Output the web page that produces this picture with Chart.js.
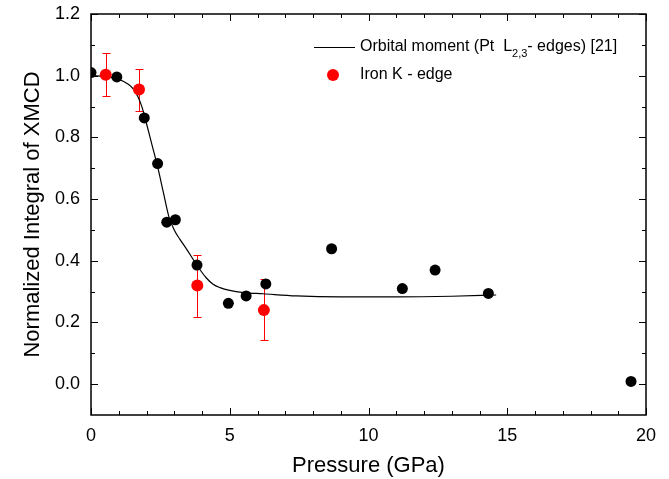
<!DOCTYPE html>
<html>
<head>
<meta charset="utf-8">
<script src="https://cdn.jsdelivr.net/npm/chart.js@4"></script>
<style>
  html, body { margin: 0; padding: 0; background: #fff; }
  #wrap { width: 669px; height: 479px; }
</style>
</head>
<body>
<div id="wrap"><canvas id="chart" width="669" height="479"></canvas></div>
<script>
// Orbital moment (Pt L2,3 edges) [21] - black points
const pressurePt = [0, 0.93, 1.92, 2.4, 2.73, 3.04, 3.82, 4.95, 5.59, 6.3, 8.67, 11.22, 12.4, 14.32, 19.46];
const xmcdPt = [1.01, 0.996, 0.863, 0.715, 0.525, 0.533, 0.386, 0.262, 0.286, 0.325, 0.439, 0.31, 0.37, 0.294, 0.009];

// guide curve through the Pt data
const curveX = [0, 0.5, 1.0, 1.3, 1.5, 1.7, 1.85, 2.0, 2.2, 2.4, 2.6, 2.8, 3.0, 3.2, 3.45, 3.8, 4.15, 4.4, 4.65, 5.0, 5.5, 6.2, 7.4, 9, 11, 13, 14.6];
const curveY = [1.0, 0.998, 0.988, 0.975, 0.96, 0.93, 0.895, 0.845, 0.775, 0.705, 0.625, 0.545, 0.5, 0.47, 0.437, 0.388, 0.345, 0.324, 0.313, 0.304, 0.297, 0.293, 0.286, 0.283, 0.283, 0.285, 0.289];

// Iron K - edge - red points with error bars
const pressureFe = [0.53, 1.73, 3.83, 6.23];
const xmcdFe = [1.003, 0.955, 0.32, 0.24];
const errLow = [0.933, 0.884, 0.219, 0.143];
const errHigh = [1.072, 1.023, 0.418, 0.34];

const xTicks = [0, 5, 10, 15, 20];
const yTicks = [0, 0.2, 0.4, 0.6, 0.8, 1.0, 1.2];

const FONT = '"Liberation Sans", Arial, sans-serif';

const toXY = (xs, ys) => xs.map((x, i) => ({ x: x, y: ys[i] }));

// box + inward ticks on all four sides, error bars under the points
const framePlugin = {
    id: 'frame',
    beforeDatasetsDraw(chart) {
        const c = chart.ctx;
        const xs = chart.scales.x, ys = chart.scales.y;
        c.save();
        c.strokeStyle = 'red';
        c.lineWidth = 1;
        pressureFe.forEach((p, i) => {
            const px = Math.round(xs.getPixelForValue(p)) + 0.5;
            const lo = Math.round(ys.getPixelForValue(errLow[i])) + 0.5;
            const hi = Math.round(ys.getPixelForValue(errHigh[i])) + 0.5;
            c.beginPath();
            c.moveTo(px, lo); c.lineTo(px, hi);
            c.moveTo(px - 4, lo); c.lineTo(px + 4, lo);
            c.moveTo(px - 4, hi); c.lineTo(px + 4, hi);
            c.stroke();
        });
        c.restore();
    },
    afterDraw(chart) {
        const c = chart.ctx;
        const a = chart.chartArea;
        const xs = chart.scales.x, ys = chart.scales.y;
        c.save();
        c.strokeStyle = '#000';
        c.lineWidth = 1.5;
        c.strokeRect(a.left, a.top, a.right - a.left, a.bottom - a.top);
        c.lineWidth = 1;
        c.beginPath();
        for (let v = 0; v <= 20; v += 1) {
            const px = Math.round(xs.getPixelForValue(v)) + 0.5;
            const len = v % 5 === 0 ? 7 : 4;
            c.moveTo(px, a.bottom); c.lineTo(px, a.bottom - len);
            c.moveTo(px, a.top); c.lineTo(px, a.top + len);
        }
        for (let k = 0; k <= 12; k++) {
            const py = Math.round(ys.getPixelForValue(k / 10)) + 0.5;
            const len = k % 2 === 0 ? 7 : 4;
            c.moveTo(a.left, py); c.lineTo(a.left + len, py);
            c.moveTo(a.right, py); c.lineTo(a.right - len, py);
        }
        c.stroke();

        // legend (drawn by hand because of the subscript)
        const lx = 314, ly1 = 47, ly2 = 75;
        c.beginPath();
        c.moveTo(lx, ly1 + 0.5); c.lineTo(lx + 41, ly1 + 0.5);
        c.stroke();
        c.fillStyle = '#000';
        c.textBaseline = 'middle';
        c.textAlign = 'left';
        c.font = '16px ' + FONT;
        let tx = 360;
        const t1 = 'Orbital moment (Pt  L';
        c.fillText(t1, tx, ly1);
        tx += c.measureText(t1).width;
        c.font = '11px ' + FONT;
        c.fillText('2,3', tx, ly1 + 7);
        tx += c.measureText('2,3').width;
        c.font = '16px ' + FONT;
        c.fillText('- edges) [21]', tx, ly1);
        c.fillText('Iron K - edge', 360, ly2);
        c.fillStyle = 'red';
        c.beginPath();
        c.arc(lx + 19, ly2, 6, 0, Math.PI * 2);
        c.fill();
        c.restore();
    }
};

new Chart(document.getElementById('chart'), {
    type: 'scatter',
    data: {
        datasets: [
            {
                label: 'curve',
                type: 'line',
                data: toXY(curveX, curveY),
                borderColor: '#000',
                borderWidth: 1.2,
                pointRadius: 0,
                cubicInterpolationMode: 'monotone',
                fill: false,
                order: 3
            },
            {
                label: 'Orbital moment (Pt L2,3- edges) [21]',
                data: toXY(pressurePt, xmcdPt),
                backgroundColor: '#000',
                borderColor: '#000',
                pointRadius: 5.5,
                borderWidth: 0,
                order: 2
            },
            {
                label: 'Iron K - edge',
                data: toXY(pressureFe, xmcdFe),
                backgroundColor: 'red',
                borderColor: 'red',
                pointRadius: 6,
                borderWidth: 0,
                order: 1
            }
        ]
    },
    options: {
        responsive: false,
        animation: false,
        layout: { padding: { left: 10, right: 23, top: 14, bottom: 0 } },
        plugins: {
            legend: { display: false },
            tooltip: { enabled: false }
        },
        scales: {
            x: {
                type: 'linear',
                min: 0,
                max: 20,
                afterBuildTicks: s => { s.ticks = xTicks.map(v => ({ value: v })); },
                afterFit: s => { s.height = 64; s.paddingLeft = 0; s.paddingRight = 0; },
                grid: { display: false, drawTicks: false },
                border: { display: false },
                ticks: {
                    color: '#000',
                    padding: 10,
                    font: { family: FONT, size: 18 }
                },
                title: {
                    display: true,
                    text: 'Pressure (GPa)',
                    color: '#000',
                    font: { family: FONT, size: 22 },
                    padding: { top: 0, bottom: 0 }
                }
            },
            y: {
                type: 'linear',
                min: -0.1,
                max: 1.2,
                afterBuildTicks: s => { s.ticks = yTicks.map(v => ({ value: v })); },
                afterFit: s => { s.width = 81; s.paddingTop = 0; s.paddingBottom = 0; },
                grid: { display: false, drawTicks: false },
                border: { display: false },
                ticks: {
                    color: '#000',
                    padding: 11,
                    font: { family: FONT, size: 18 },
                    callback: v => v.toFixed(1)
                },
                title: {
                    display: true,
                    text: 'Normalized Integral of XMCD',
                    color: '#000',
                    font: { family: FONT, size: 22 },
                    padding: { top: 10, bottom: 0 }
                }
            }
        }
    },
    plugins: [framePlugin]
});
</script>
</body>
</html>
